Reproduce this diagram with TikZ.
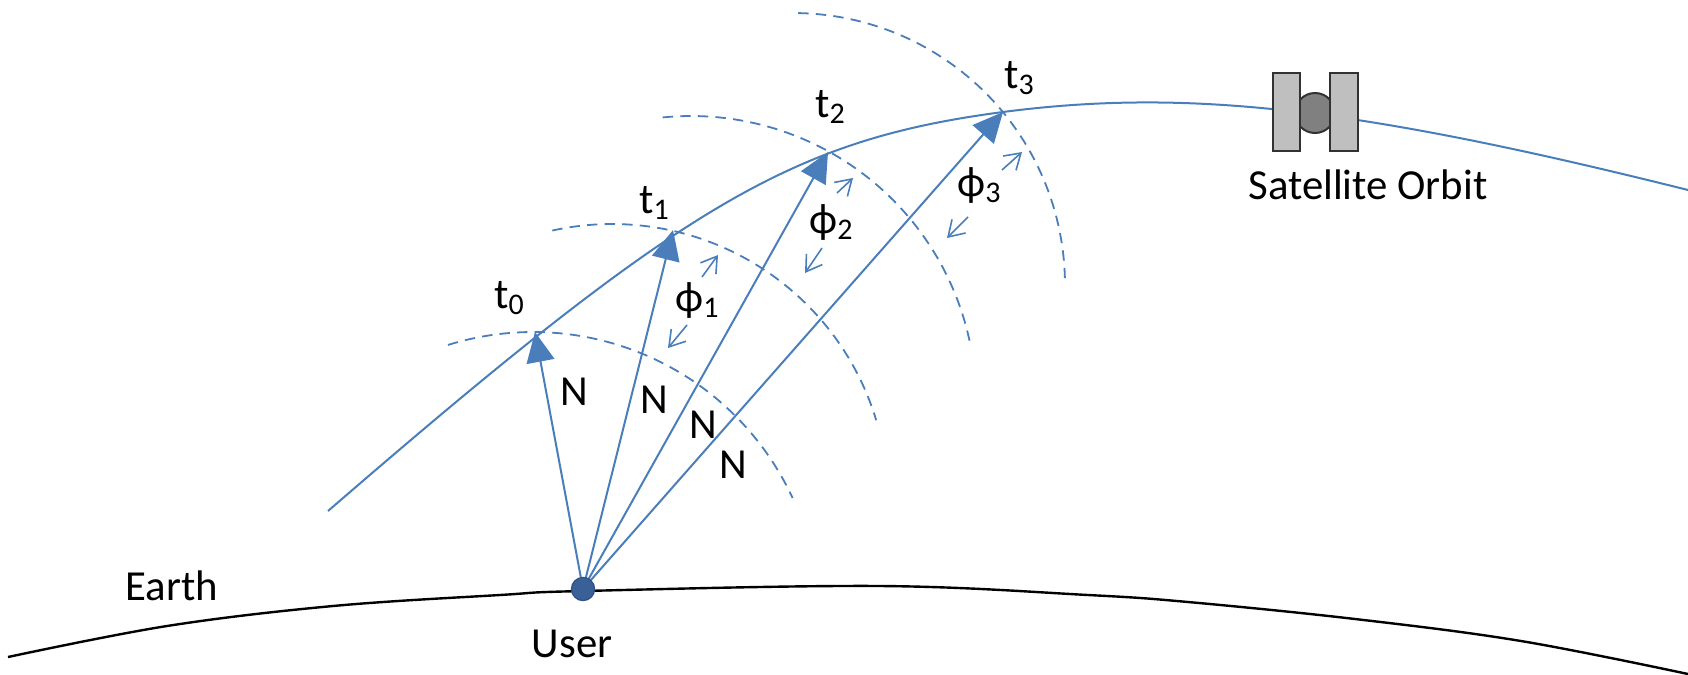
\documentclass[tikz,border=0pt]{standalone}
\usepackage{fontspec}
\setmainfont{Carlito}
\usetikzlibrary{arrows.meta}
\definecolor{pblue}{RGB}{74,126,187}
\definecolor{dotblue}{RGB}{58,96,152}
\definecolor{dotedge}{RGB}{48,80,128}
\definecolor{panelgray}{RGB}{191,191,191}
\definecolor{bodygray}{RGB}{128,128,128}
\definecolor{edgegray}{RGB}{50,50,50}
\begin{document}
\begin{tikzpicture}[x=0.25pt,y=-0.25pt,
  font=\fontsize{10.7}{12.5}\selectfont,
  orbitline/.style={draw=pblue, line width=0.5pt},
  vec/.style={draw=pblue, line width=0.5pt, -{Triangle[length=7.5pt,width=7pt]}},
  wave/.style={draw=pblue, line width=0.45pt, dash pattern=on 2.6pt off 1.8pt},
  phiarrow/.style={draw=pblue, line width=0.4pt, -{Straight Barb[length=3.8pt,width=4.8pt]}},
  lbl/.style={inner sep=0pt, anchor=base, text=black},
  panel/.style={draw=edgegray, line width=0.5pt, fill=panelgray}]
\useasboundingbox (0,0) rectangle (1688,674);

% Earth
\draw[black, line width=0.6pt] plot[smooth, tension=0.6] coordinates {(8,657) (167,626) (333,606) (500,595) (583,591) (880,586) (1088,595) (1188,602) (1355,619) (1521,641) (1688,674)};

% satellite positions
\coordinate (o0) at (328,511);
\coordinate (p0) at (535,332);
\coordinate (p1) at (673,230);
\coordinate (p2) at (828,152);
\coordinate (p3) at (1003,112);
\coordinate (o1) at (1688,190);

% orbit
\draw[orbitline] (o0) .. controls (683,204) and (791,140) .. (p3)
                      .. controls (1187,88) and (1358,107.5) .. (o1);

% wave fronts
\draw[wave, domain=-107.3:-24.8, samples=60, variable=\a] plot ({533+286*cos(\a)}, {618+286*sin(\a)});
\draw[wave, domain=-102.5:-16.8, samples=60, variable=\a] plot ({612+276*cos(\a)}, {500+276*sin(\a)});
\draw[wave, domain=-95.7:-12.0, samples=60, variable=\a] plot ({691+285*cos(\a)}, {401+285*sin(\a)});
\draw[wave, domain=-88.9:-0.8, samples=60, variable=\a] plot ({793+272*cos(\a)}, {285+272*sin(\a)});

% user
\coordinate (u) at (583,589);
\draw[vec] (u) -- (p0);
\draw[vec] (u) -- (p1);
\draw[vec] (u) -- (p2);
\draw[vec] (u) -- (p3);
\node[circle, fill=dotblue, draw=dotedge, line width=0.3pt, minimum size=5.8pt, inner sep=0pt] (user) at (u) {};

% phase arrows
\coordinate (a1s) at (702,277); \coordinate (a1e) at (718,255);
\coordinate (b1s) at (687,325); \coordinate (b1e) at (668,348);
\coordinate (a2s) at (837,193); \coordinate (a2e) at (853,178);
\coordinate (b2s) at (822,248); \coordinate (b2e) at (805,273);
\coordinate (a3s) at (1002,170); \coordinate (a3e) at (1022,152);
\coordinate (b3s) at (968,217); \coordinate (b3e) at (947,238);
\draw[phiarrow] (a1s) -- (a1e);
\draw[phiarrow] (b1s) -- (b1e);
\draw[phiarrow] (a2s) -- (a2e);
\draw[phiarrow] (b2s) -- (b2e);
\draw[phiarrow] (a3s) -- (a3e);
\draw[phiarrow] (b3s) -- (b3e);

% satellite
\node[circle, draw=edgegray, fill=bodygray, line width=0.5pt, minimum size=10pt, inner sep=0pt] (body) at (1315,113) {};
\draw[panel] (1273,73) rectangle (1300,151);
\draw[panel] (1330,73) rectangle (1358,151);

% labels
\node[lbl] (t0) at (510,308) {t\textsubscript{0}};
\node[lbl] (t1) at (655,213) {t\textsubscript{1}};
\node[lbl] (t2) at (831,117) {t\textsubscript{2}};
\node[lbl] (t3) at (1020,88) {t\textsubscript{3}};

\node[lbl] (n0) at (574,405) {N};
\node[lbl] (n1) at (654,413) {N};
\node[lbl] (n2) at (703,438) {N};
\node[lbl] (n3) at (733,478) {N};

\node[lbl] (f1) at (698,311) {ϕ\textsubscript{1}};
\node[lbl] (f2) at (832,233) {ϕ\textsubscript{2}};
\node[lbl] (f3) at (980,196) {ϕ\textsubscript{3}};

\node[lbl] (sat) at (1368,199) {Satellite Orbit};
\node[lbl] (earth) at (172,600) {Earth};
\node[lbl] (userlbl) at (572,657) {User};
\end{tikzpicture}
\end{document}
